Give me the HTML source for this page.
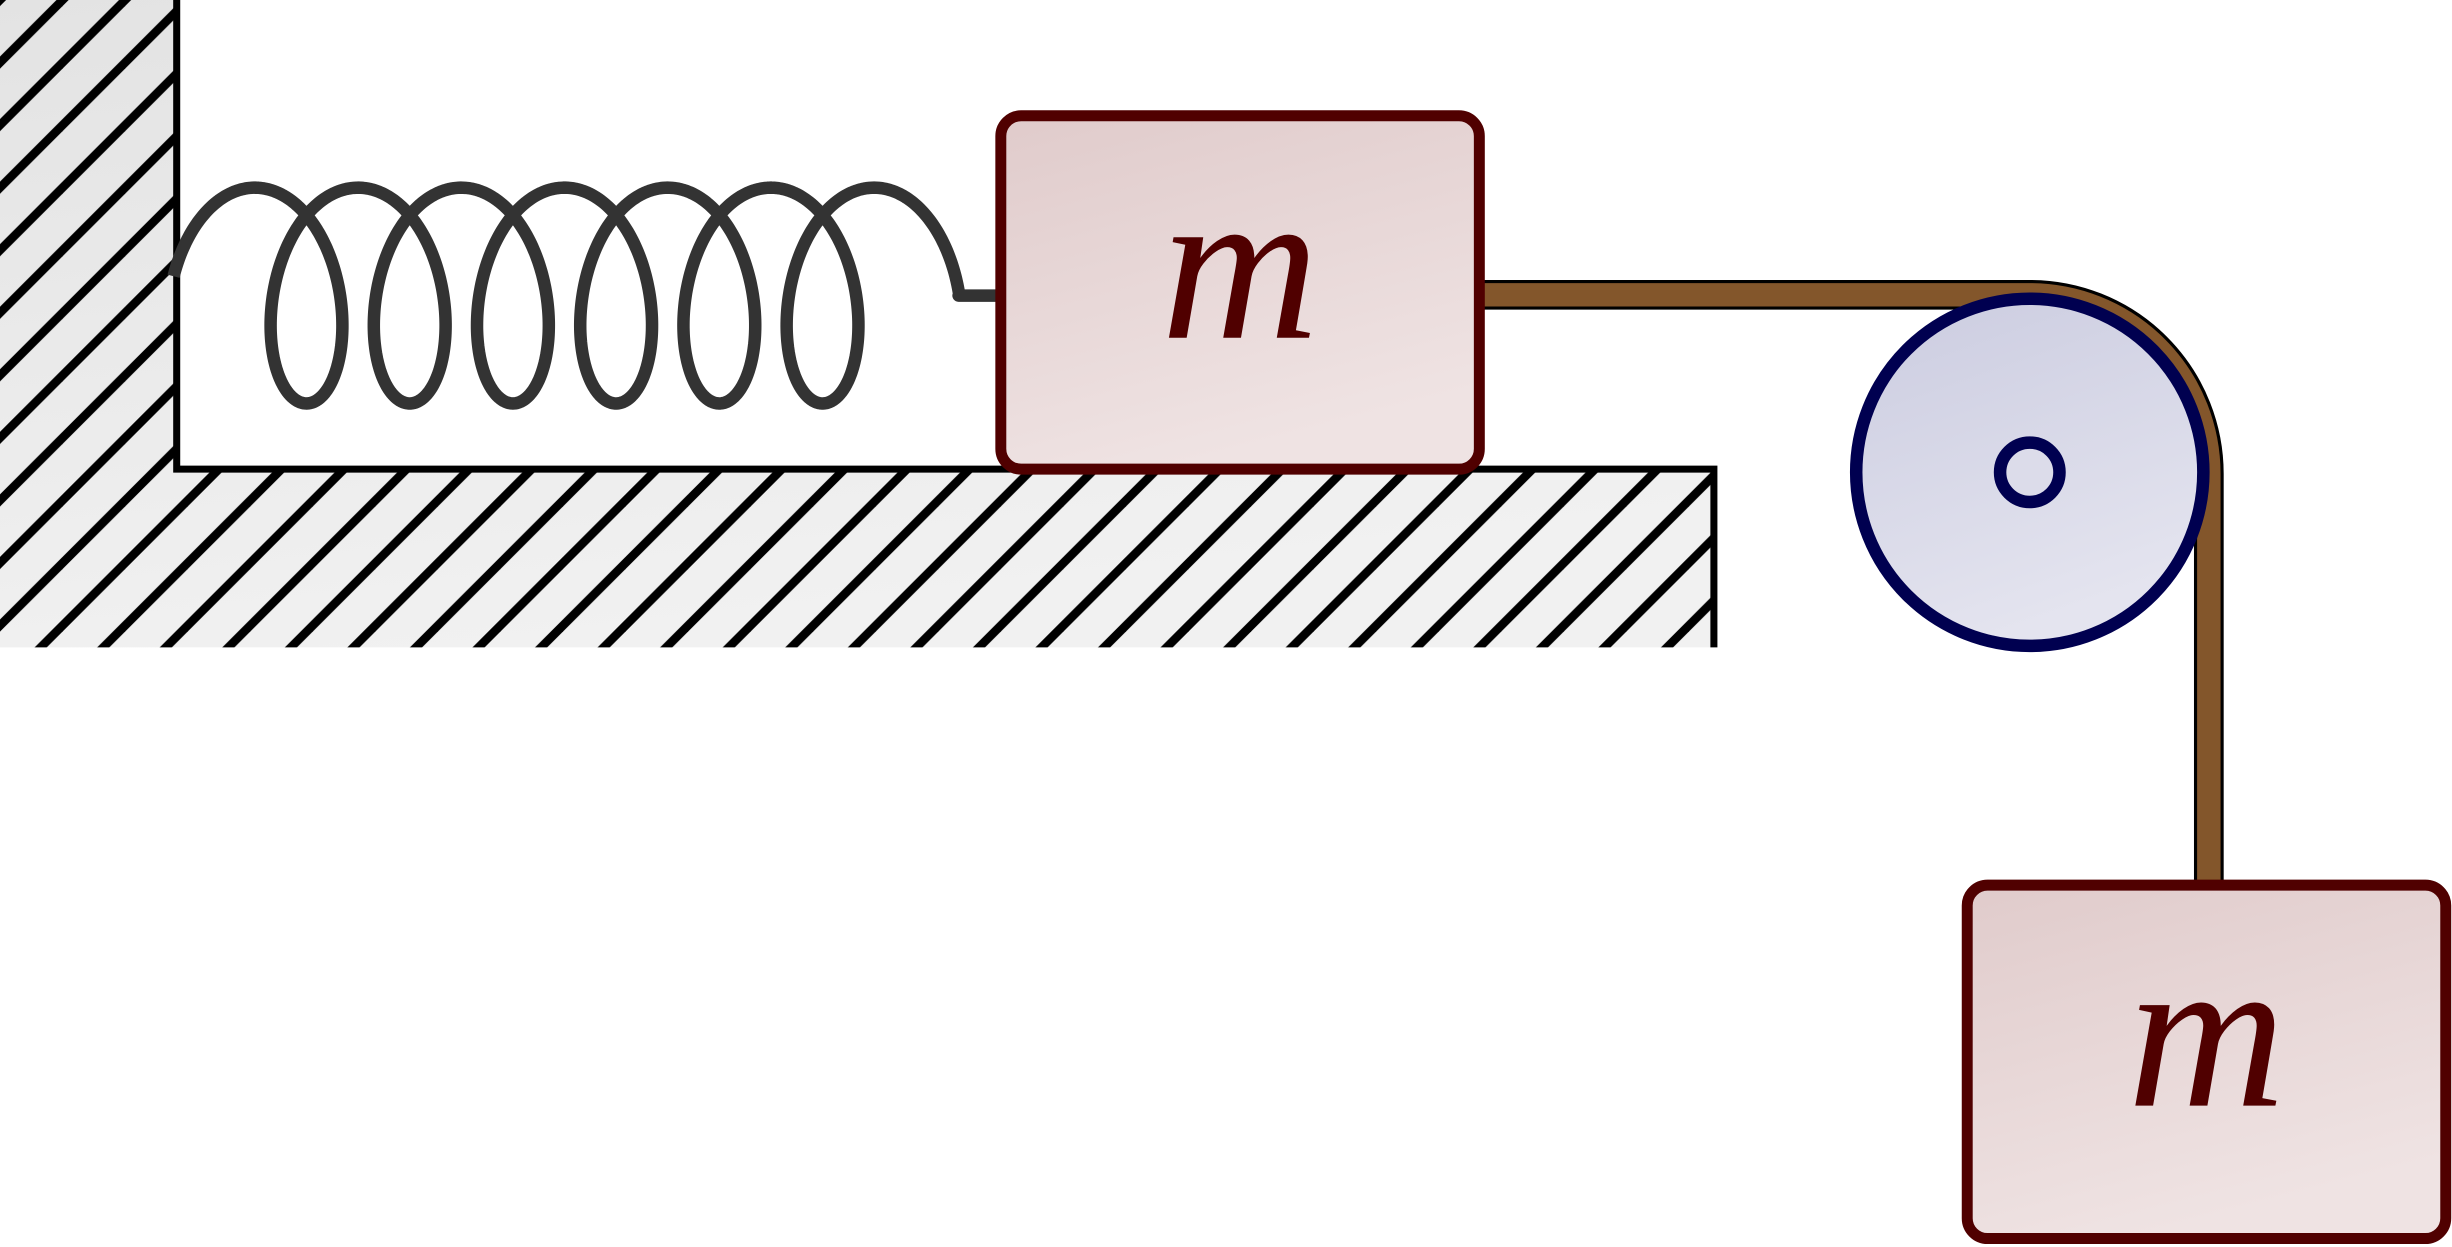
<!DOCTYPE html>
<html><head><meta charset="utf-8"><style>
html,body{margin:0;padding:0;background:#fff;overflow:hidden}
svg{display:block}
</style></head><body>
<svg width="2452" height="1247" viewBox="0 0 1568 797.4" xmlns="http://www.w3.org/2000/svg">
<defs>
<linearGradient id="g" x1="0" y1="0" x2="0.3" y2="1"><stop offset="0" stop-color="#e3e3e3"/><stop offset="1" stop-color="#f1f1f1"/></linearGradient>
<linearGradient id="mb" x1="0" y1="0" x2="0.35" y2="1"><stop offset="0" stop-color="#e0cbcb"/><stop offset="1" stop-color="#efe3e3"/></linearGradient>
<linearGradient id="pb" x1="0" y1="0" x2="0.35" y2="1"><stop offset="0" stop-color="#cbcce0"/><stop offset="1" stop-color="#e4e4ef"/></linearGradient>
<pattern id="h" patternUnits="userSpaceOnUse" width="40" height="40">
<line x1="-10" y1="50" x2="50" y2="-10" stroke="#000" stroke-width="5.5"/>
<line x1="-30" y1="30" x2="30" y2="-30" stroke="#000" stroke-width="5.5"/>
<line x1="10" y1="70" x2="70" y2="10" stroke="#000" stroke-width="5.5"/>
</pattern>
</defs>
<path d="M0,0 H113 V300 H1096 V414 H0 Z" fill="url(#g)"/>
<path d="M0,0 H113 V300 H1096 V414 H0 Z" fill="url(#h)"/>
<path d="M113,0 V300 H1096 V414" fill="none" stroke="#000" stroke-width="4.5"/>
<path id="spring" fill="none" stroke="#333" stroke-width="8" stroke-linejoin="round"/>
<path d="M946,188.5 H1298 A114.5,114.5 0 0 1 1412.5,303 V566" fill="none" stroke="#000" stroke-width="19"/>
<path d="M946,188.5 H1298 A114.5,114.5 0 0 1 1412.5,303 V566" fill="none" stroke="#83562b" stroke-width="15"/>
<circle cx="1298" cy="302" r="111" fill="url(#pb)" stroke="#000050" stroke-width="8"/>
<circle cx="1298" cy="302" r="19" fill="#dcdcea" stroke="#000050" stroke-width="8"/>
<rect x="640" y="74" width="306" height="226" rx="13" fill="url(#mb)" stroke="#500000" stroke-width="7"/>
<text x="793" y="216" font-family="Liberation Serif, serif" font-style="italic" font-size="140" fill="#500000" text-anchor="middle">m</text>
<rect x="1258" y="566" width="306" height="226" rx="13" fill="url(#mb)" stroke="#500000" stroke-width="7"/>
<text x="1411" y="707" font-family="Liberation Serif, serif" font-style="italic" font-size="140" fill="#500000" text-anchor="middle">m</text>
</svg>
<script>
(function(){
var pts=[];
var t0=-Math.PI/2+0.18, t1=12*Math.PI+Math.PI/2;
for(var t=t0;t<=t1+1e-9;t+=0.03){
 var x=163+66*t/(2*Math.PI)+38*Math.sin(t);
 var y=189-69*Math.cos(t);
 pts.push(x.toFixed(2)+","+y.toFixed(2));
}
var d="M"+pts.join(" L")+" L613,189 L640,189";
document.getElementById("spring").setAttribute("d",d);
})();
</script>
</body></html>
